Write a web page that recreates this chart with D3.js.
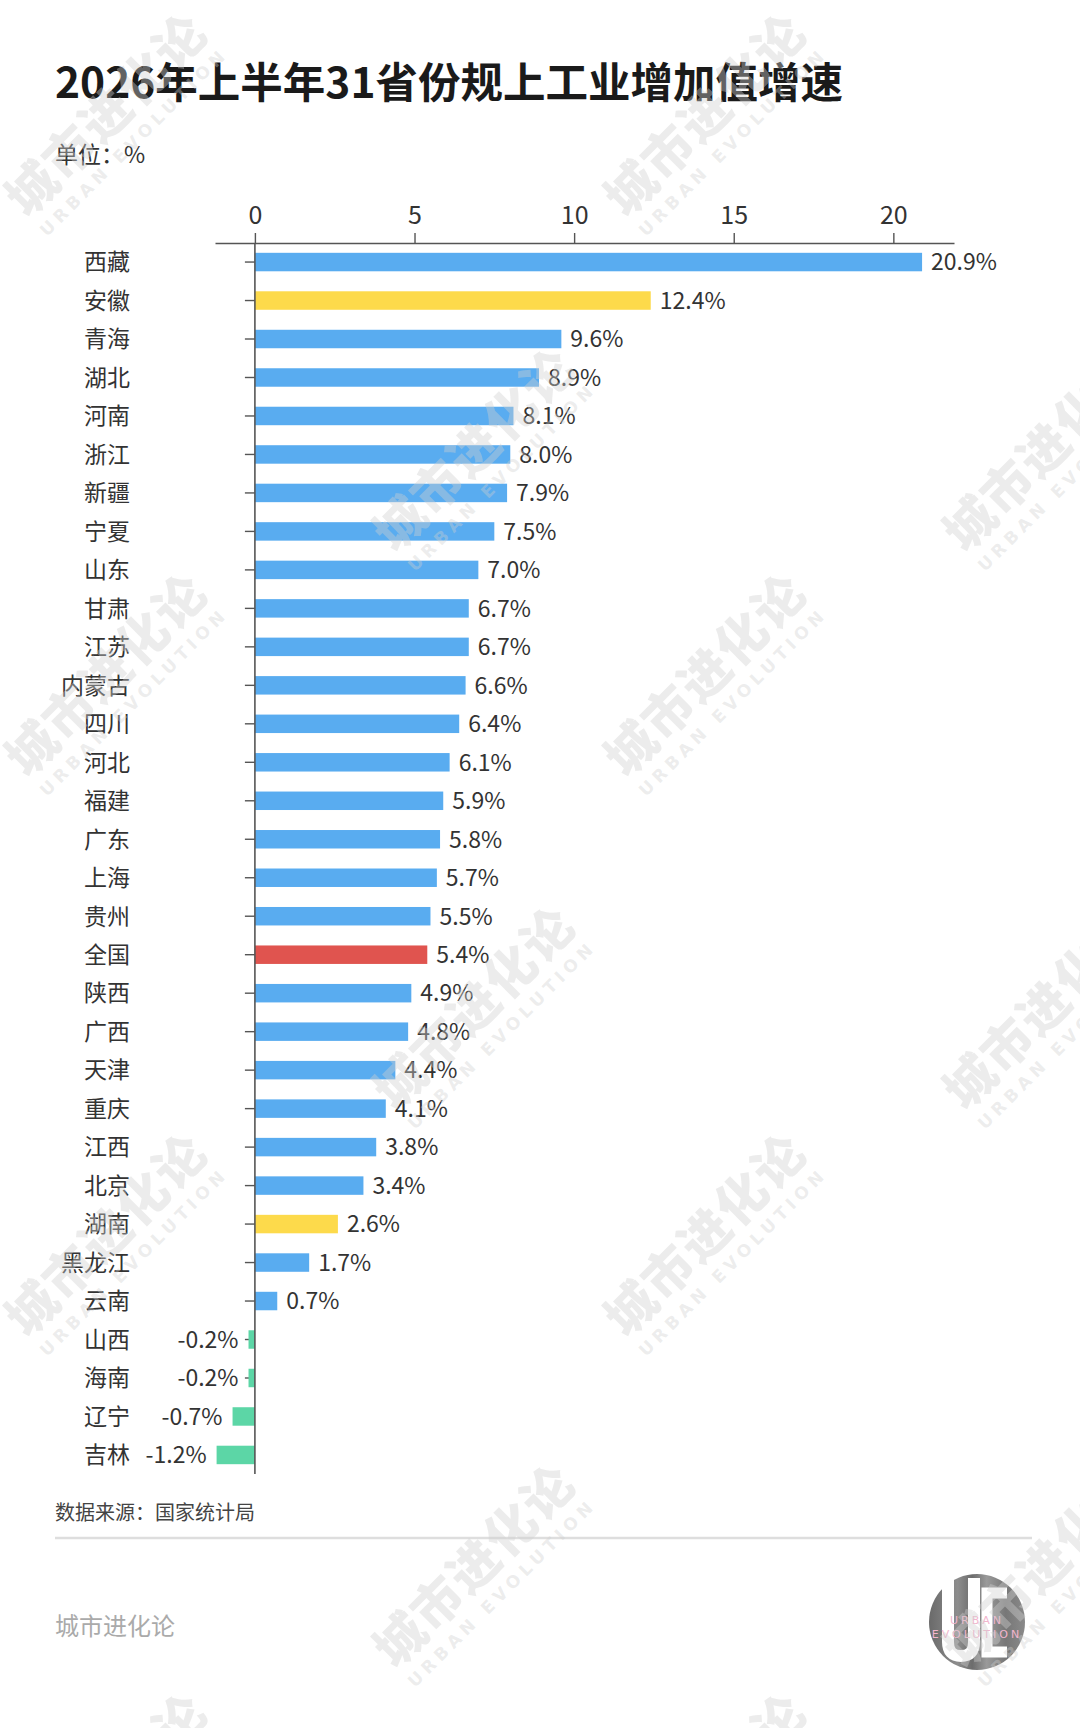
<!DOCTYPE html>
<html>
<head>
<meta charset="utf-8">
<script src="https://cdn.jsdelivr.net/npm/d3@7"></script>
<style>
  html, body { margin: 0; padding: 0; background: #fff; }
  svg { display: block; font-family: "Noto Sans CJK SC", "Noto Sans", sans-serif; }
</style>
</head>
<body>
<svg id="chart" width="1080" height="1728"></svg>
<script>
// ── Data ─────────────────────────────────────────────────────────
const provinces = ["西藏","安徽","青海","湖北","河南","浙江","新疆","宁夏","山东","甘肃",
  "江苏","内蒙古","四川","河北","福建","广东","上海","贵州","全国","陕西",
  "广西","天津","重庆","江西","北京","湖南","黑龙江","云南","山西","海南","辽宁","吉林"];
const growth = [20.9,12.4,9.6,8.9,8.1,8.0,7.9,7.5,7.0,6.7,
  6.7,6.6,6.4,6.1,5.9,5.8,5.7,5.5,5.4,4.9,
  4.8,4.4,4.1,3.8,3.4,2.6,1.7,0.7,-0.2,-0.2,-0.7,-1.2];
const highlighted = ["安徽","湖南"];
const nationalName = "全国";
const tickValues = [0, 5, 10, 15, 20];

const rows = provinces.map((name, i) => ({ name, value: growth[i] }));

// ── Config ───────────────────────────────────────────────────────
const COLORS = { base: "#59acf0", yellow: "#fdda4b", red: "#e0544f", neg: "#5cd6a6" };
const INK = "#333";
// plain hyphen for negatives, like the source
const fmt = d3.formatLocale({ decimal: ".", thousands: ",", grouping: [3], currency: ["", ""], minus: "-" }).format(".1f");

function barColor(d) {
  if (d.name === nationalName) return COLORS.red;
  if (highlighted.includes(d.name)) return COLORS.yellow;
  return d.value < 0 ? COLORS.neg : COLORS.base;
}

const svg = d3.select("#chart");

// ── Titles ───────────────────────────────────────────────────────
svg.append("text")
  .attr("x", 55).attr("y", 98)
  .attr("font-size", 42.5).attr("font-weight", 700).attr("fill", "#1a1a1a")
  .text("2026年上半年31省份规上工业增加值增速");

svg.append("text")
  .attr("x", 55).attr("y", 163)
  .attr("font-size", 23).attr("fill", INK)
  .text("单位：%");

// ── Scales ───────────────────────────────────────────────────────
const x = d3.scaleLinear().domain([-1.25, 21.9]).range([215, 954]);
const y = d3.scaleBand()
  .domain(provinces)
  .range([243, 1474])
  .paddingInner(0.52)
  .paddingOuter(0.255);

// ── Axes ─────────────────────────────────────────────────────────
const xAxis = svg.append("g")
  .attr("transform", `translate(0,${y.range()[0]})`)
  .call(d3.axisTop(x).tickValues(tickValues).tickSize(10).tickSizeOuter(0).tickPadding(9));
xAxis.select(".domain").attr("stroke", "#555").attr("stroke-width", 1.6);
xAxis.selectAll(".tick line").attr("stroke", "#555").attr("stroke-width", 1.4);
xAxis.selectAll(".tick text")
  .attr("font-size", 25).attr("fill", INK)
  .attr("font-family", "\"Noto Sans CJK SC\", sans-serif");

const yAxis = svg.append("g")
  .attr("transform", `translate(${x(0)},0)`)
  .call(d3.axisLeft(y).tickSize(10).tickSizeOuter(0).tickFormat(""));
yAxis.select(".domain").remove();
yAxis.selectAll(".tick line").attr("stroke", "#555").attr("stroke-width", 1.4);

// ── Bars ─────────────────────────────────────────────────────────
svg.append("g").selectAll("rect")
  .data(rows)
  .join("rect")
  .attr("x", d => x(Math.min(0, d.value)))
  .attr("width", d => Math.abs(x(d.value) - x(0)))
  .attr("y", d => y(d.name))
  .attr("height", y.bandwidth())
  .attr("fill", barColor);

// zero line on top of bars
svg.append("line")
  .attr("x1", x(0)).attr("x2", x(0))
  .attr("y1", y.range()[0]).attr("y2", y.range()[1])
  .attr("stroke", "#555").attr("stroke-width", 1.6);

// ── Labels ───────────────────────────────────────────────────────
svg.append("g").selectAll("text")
  .data(rows)
  .join("text")
  .attr("x", 130)
  .attr("y", d => y(d.name) + y.bandwidth() / 2)
  .attr("dy", "0.36em")
  .attr("text-anchor", "end")
  .attr("font-size", 23).attr("fill", INK)
  .text(d => d.name);

svg.append("g").selectAll("text")
  .data(rows)
  .join("text")
  .attr("x", d => d.value < 0 ? x(d.value) - 10 : x(d.value) + 9)
  .attr("y", d => y(d.name) + y.bandwidth() / 2)
  .attr("dy", "0.36em")
  .attr("text-anchor", d => d.value < 0 ? "end" : "start")
  .attr("font-size", 23).attr("fill", INK)
  .text(d => fmt(d.value) + "%");

// ── Footer ───────────────────────────────────────────────────────
svg.append("text")
  .attr("x", 55).attr("y", 1520)
  .attr("font-size", 20).attr("fill", "#444")
  .text("数据来源：国家统计局");

svg.append("line")
  .attr("x1", 55).attr("x2", 1032)
  .attr("y1", 1538).attr("y2", 1538)
  .attr("stroke", "#dedede").attr("stroke-width", 2.5);

svg.append("text")
  .attr("x", 55).attr("y", 1635)
  .attr("font-size", 24).attr("fill", "#aaa")
  .text("城市进化论");

// ── Logo ─────────────────────────────────────────────────────────
const defs = svg.append("defs");
const grad = defs.append("linearGradient").attr("id", "logoGrad")
  .attr("x1", "0").attr("x2", "1").attr("y1", "0").attr("y2", "0");
[["0%", "#6a6a6a"], ["30%", "#8d8d8d"], ["45%", "#6c6c6c"], ["60%", "#9a9a9a"], ["80%", "#777"], ["100%", "#8a8a8a"]]
  .forEach(([o, c]) => grad.append("stop").attr("offset", o).attr("stop-color", c));

const logo = svg.append("g").attr("transform", "translate(977,1622)");
logo.append("circle").attr("r", 48).attr("fill", "url(#logoGrad)");
logo.append("path")
  .attr("d", "M-29,-44 V20 Q-29,34 -16,34 Q-3,34 -3,20 V-44")
  .attr("fill", "none").attr("stroke", "#fff").attr("stroke-width", 12);
logo.append("path")
  .attr("d", "M30,-29 H10 V30 H30")
  .attr("fill", "none").attr("stroke", "#fff").attr("stroke-width", 11);
logo.append("text").attr("y", 2).attr("text-anchor", "middle")
  .attr("font-size", 11).attr("letter-spacing", 3).attr("fill", "#f2b5cd")
  .attr("font-family", "\"DejaVu Sans\", sans-serif")
  .text("URBAN");
logo.append("text").attr("y", 16).attr("text-anchor", "middle")
  .attr("font-size", 11).attr("letter-spacing", 3).attr("fill", "#f2b5cd")
  .attr("font-family", "\"DejaVu Sans\", sans-serif")
  .text("EVOLUTION");

// ── Watermarks ───────────────────────────────────────────────────
const wmCentersX = [107, 706];
const wmCentersY = [115, 675, 1235, 1795];
const wmAltX = [475, 1045];
const wmAltY = [450, 1008, 1566];

const wmSpots = [];
wmCentersY.forEach(cy => wmCentersX.forEach(cx => wmSpots.push([cx, cy])));
wmAltY.forEach(cy => wmAltX.forEach(cx => wmSpots.push([cx, cy])));

const wm = svg.append("g").attr("pointer-events", "none");
wmSpots.forEach(([cx, cy]) => {
  const g = wm.append("g").attr("transform", `translate(${cx},${cy}) rotate(-45)`);
  g.append("text")
    .attr("text-anchor", "middle").attr("dy", "0.35em")
    .attr("font-size", 50).attr("font-weight", 900)
    .attr("letter-spacing", 2)
    .attr("fill", "#cfcfcf").attr("fill-opacity", 0.4)
    .text("城市进化论");
  g.append("text")
    .attr("text-anchor", "middle").attr("y", 44)
    .attr("font-size", 17).attr("font-weight", 700)
    .attr("letter-spacing", 5)
    .attr("font-family", "\"DejaVu Sans\", sans-serif")
    .attr("fill", "#cfcfcf").attr("fill-opacity", 0.4)
    .text("URBAN EVOLUTION");
});
</script>
</body>
</html>
